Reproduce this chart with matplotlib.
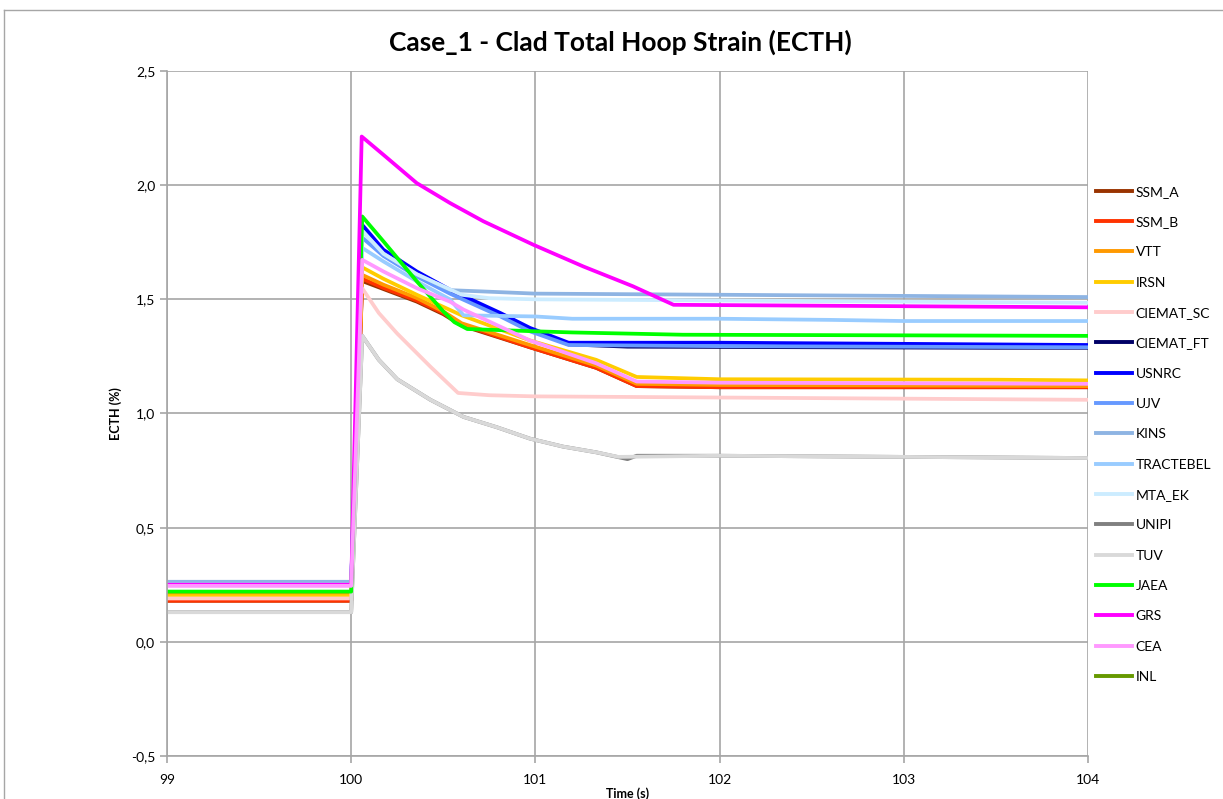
import matplotlib
matplotlib.use("Agg")
import matplotlib.pyplot as plt
from matplotlib.ticker import FuncFormatter, MultipleLocator
from matplotlib.lines import Line2D

plt.rcParams['font.family'] = ['Lato', 'DejaVu Sans']

# ---------------- data ----------------
names = ["SSM_A", "SSM_B", "VTT", "IRSN", "CIEMAT_SC", "CIEMAT_FT", "USNRC", "UJV",
         "KINS", "TRACTEBEL", "MTA_EK", "UNIPI", "TUV", "JAEA", "GRS", "CEA", "INL"]
colors = ["#993300", "#FF3300", "#FF9900", "#FFCC00", "#FFCCCC", "#000066", "#0000FF", "#6699FF",
          "#8EB4E3", "#99CCFF", "#CCECFF", "#808080", "#D9D9D9", "#00FF00", "#FF00FF", "#FF99FF", "#669900"]

t_ssm_a = [99.0, 100.0, 100.06, 100.175, 100.356, 100.5, 100.6, 100.97, 101.33, 101.55, 102.0, 103.0, 104.0]
v_ssm_a = [0.18, 0.18, 1.58, 1.545, 1.49, 1.435, 1.385, 1.29, 1.20, 1.12, 1.115, 1.115, 1.115]

t_ssm_b = [99.0, 100.0, 100.06, 100.175, 100.356, 100.5, 100.6, 100.97, 101.33, 101.55, 102.0, 103.0, 104.0]
v_ssm_b = [0.18, 0.18, 1.59, 1.55, 1.495, 1.44, 1.39, 1.29, 1.20, 1.12, 1.115, 1.115, 1.115]

t_vtt = [99.0, 100.0, 100.06, 100.175, 100.356, 100.5, 100.6, 100.97, 101.33, 101.55, 102.0, 104.0]
v_vtt = [0.21, 0.21, 1.607, 1.564, 1.506, 1.447, 1.395, 1.30, 1.21, 1.13, 1.125, 1.12]

t_irsn = [99.0, 100.0, 100.06, 100.175, 100.356, 100.6, 100.97, 101.33, 101.55, 102.0, 103.5, 104.0]
v_irsn = [0.20, 0.20, 1.64, 1.59, 1.52, 1.43, 1.32, 1.235, 1.16, 1.15, 1.148, 1.145]

t_ciemat_sc = [99.0, 100.0, 100.05, 100.15, 100.25, 100.43, 100.58, 100.75, 101.0, 102.0, 103.0, 104.0]
v_ciemat_sc = [0.19, 0.19, 1.56, 1.44, 1.35, 1.205, 1.09, 1.08, 1.075, 1.07, 1.065, 1.06]

t_ciemat_ft = [99.0, 100.0, 100.06, 100.175, 100.356, 100.536, 100.81, 100.97, 101.18, 101.5, 103.5, 104.0]
v_ciemat_ft = [0.25, 0.25, 1.80, 1.70, 1.61, 1.535, 1.43, 1.365, 1.30, 1.29, 1.285, 1.285]

t_usnrc = [99.0, 100.0, 100.06, 100.175, 100.356, 100.536, 100.81, 100.97, 101.18, 102.0, 104.0]
v_usnrc = [0.25, 0.25, 1.826, 1.717, 1.622, 1.542, 1.44, 1.375, 1.31, 1.31, 1.30]

t_ujv = [99.0, 100.0, 100.06, 100.175, 100.356, 100.536, 100.81, 100.97, 101.18, 102.0, 104.0]
v_ujv = [0.26, 0.26, 1.77, 1.69, 1.60, 1.525, 1.425, 1.36, 1.30, 1.295, 1.29]

t_kins = [99.0, 100.0, 100.06, 100.175, 100.356, 100.54, 100.7, 101.0, 102.0, 103.0, 104.0]
v_kins = [0.263, 0.263, 1.80, 1.70, 1.61, 1.54, 1.535, 1.525, 1.52, 1.515, 1.51]

t_tractebel = [99.0, 100.0, 100.06, 100.175, 100.356, 100.536, 100.61, 101.0, 101.2, 102.0, 102.6, 103.0, 104.0]
v_tractebel = [0.25, 0.25, 1.725, 1.666, 1.579, 1.50, 1.43, 1.425, 1.415, 1.415, 1.41, 1.405, 1.405]

t_mta_ek = [99.0, 100.0, 100.06, 100.175, 100.356, 100.6, 100.75, 101.0, 102.0, 103.0, 104.0]
v_mta_ek = [0.25, 0.25, 1.80, 1.70, 1.61, 1.52, 1.505, 1.50, 1.495, 1.49, 1.485]

t_unipi = [99.0, 100.0, 100.06, 100.15, 100.25, 100.43, 100.61, 100.79, 100.97, 101.15, 101.33, 101.5, 101.55, 102.0, 103.0, 104.0]
v_unipi = [0.13, 0.13, 1.34, 1.235, 1.15, 1.06, 0.985, 0.94, 0.89, 0.855, 0.83, 0.80, 0.815, 0.815, 0.81, 0.805]

t_tuv = [99.0, 100.0, 100.06, 100.15, 100.25, 100.43, 100.61, 100.79, 100.97, 101.15, 101.33, 101.45, 102.0, 103.0, 104.0]
v_tuv = [0.13, 0.13, 1.34, 1.235, 1.15, 1.06, 0.985, 0.94, 0.89, 0.855, 0.83, 0.81, 0.815, 0.81, 0.805]

t_jaea = [99.0, 100.0, 100.06, 100.175, 100.356, 100.5, 100.56, 100.63, 101.0, 101.2, 101.8, 104.0]
v_jaea = [0.22, 0.22, 1.863, 1.754, 1.579, 1.447, 1.40, 1.37, 1.36, 1.355, 1.345, 1.34]

t_grs = [99.0, 100.0, 100.057, 100.175, 100.356, 100.536, 100.717, 100.989, 101.26, 101.53, 101.75, 104.0]
v_grs = [0.25, 0.25, 2.213, 2.133, 2.009, 1.922, 1.842, 1.739, 1.644, 1.557, 1.476, 1.465]

t_cea = [99.0, 100.0, 100.06, 100.175, 100.356, 100.536, 100.61, 100.97, 101.33, 101.55, 102.0, 104.0]
v_cea = [0.245, 0.245, 1.673, 1.622, 1.549, 1.49, 1.455, 1.32, 1.22, 1.14, 1.135, 1.13]

t_inl = []
v_inl = []

series_t = [t_ssm_a, t_ssm_b, t_vtt, t_irsn, t_ciemat_sc, t_ciemat_ft, t_usnrc, t_ujv,
            t_kins, t_tractebel, t_mta_ek, t_unipi, t_tuv, t_jaea, t_grs, t_cea, t_inl]
series_v = [v_ssm_a, v_ssm_b, v_vtt, v_irsn, v_ciemat_sc, v_ciemat_ft, v_usnrc, v_ujv,
            v_kins, v_tractebel, v_mta_ek, v_unipi, v_tuv, v_jaea, v_grs, v_cea, v_inl]

# ---------------- figure ----------------
W, H = 1223, 799
fig = plt.figure(figsize=(W / 100, H / 100), dpi=100)
ax = fig.add_axes([167 / W, 1 - 756 / H, (1088 - 167) / W, (756 - 71) / H])

handles = []
for name, c, t, v in zip(names, colors, series_t, series_v):
    lw = 1.8 if name == "CIEMAT_FT" else 2.7
    ax.plot(t, v, color=c, lw=lw, solid_joinstyle='round', solid_capstyle='round', label=name)
    handles.append(Line2D([0], [0], color=c, lw=2.8))

ax.set_xlim(99, 104)
ax.set_ylim(-0.5, 2.5)
ax.xaxis.set_major_locator(MultipleLocator(1))
ax.yaxis.set_major_locator(MultipleLocator(0.5))
ax.yaxis.set_major_formatter(FuncFormatter(lambda v, p: f"{v:.1f}".replace('.', ',')))
ax.xaxis.set_major_formatter(FuncFormatter(lambda v, p: f"{v:.0f}"))
ax.grid(True, color="#A6A6A6", lw=1.2)
ax.set_axisbelow(True)
for s in ['top', 'right']:
    ax.spines[s].set_visible(False)
for s in ['left', 'bottom']:
    ax.spines[s].set_color("#A6A6A6")
    ax.spines[s].set_linewidth(1.2)
ax.tick_params(axis='both', colors="#A6A6A6", labelcolor='black', labelsize=10, length=5, width=1.2)
ax.tick_params(axis='x', pad=8)

ax.set_xlabel("Time (s)", fontsize=9, fontweight='bold', labelpad=1)
ax.set_ylabel("ECTH (%)", fontsize=9, fontweight='bold', labelpad=6)
fig.text(620 / W, 1 - 42 / H, "Case_1 - Clad Total Hoop Strain (ECTH)", ha='center', va='center',
         fontsize=19, fontweight='bold')

fig.legend(handles, names, loc='upper left', bbox_to_anchor=(1090 / W, 1 - 180 / H),
           frameon=False, fontsize=10, handlelength=2.6, handletextpad=0.3, labelspacing=1.32,
           borderaxespad=0)

# outer chart frame
fig.add_artist(Line2D([4 / W, 4 / W], [0, 1 - 10 / H], transform=fig.transFigure, color="#A6A6A6", lw=1))
fig.add_artist(Line2D([4 / W, 1], [1 - 10 / H, 1 - 10 / H], transform=fig.transFigure, color="#A6A6A6", lw=1))

fig.savefig("out.png", dpi=100)
